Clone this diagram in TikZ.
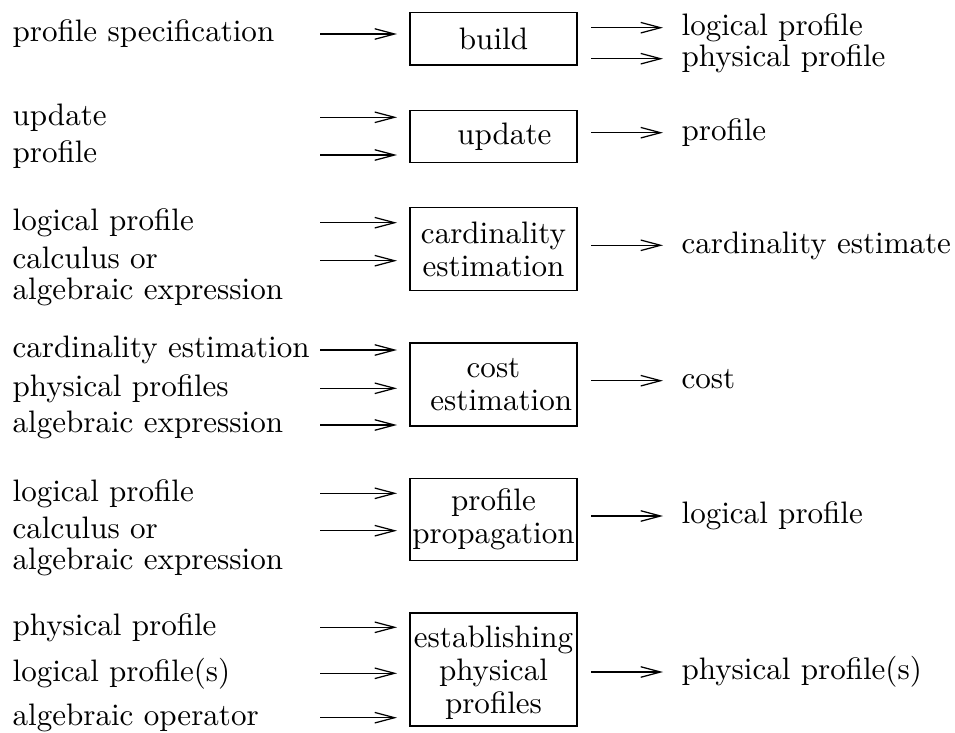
\documentclass[tikz,border=0pt]{standalone}
\usepackage{tikz}
\usetikzlibrary{arrows.meta, positioning}

\begin{document}
\begin{tikzpicture}[x=0.322pt, y=-0.322pt,
		arr/.style={-{Straight Barb[length=6.4pt, width=3.4pt]}},
		blk/.style={draw, inner sep=0pt, minimum width=53.8pt, align=center,
			font=\fontsize{10}{10.6}\selectfont},
		lbl/.style={anchor=west, inner sep=0pt, text height=7pt, text depth=2pt},
		nxt/.style={lbl, below=0.66pt of #1.south west, anchor=north west}]
		\useasboundingbox (0,0) rectangle (955,733);
		% Columns of the arrows
		\coordinate (intail) at (320,0);
		\coordinate (inhead) at (397,0);
		\coordinate (outtail) at (591,0);
		\coordinate (outhead) at (663,0);
		% build
		\node[blk, minimum height=16.8pt] (build) at (493.5,38.9) {build};
		\node[lbl] (spec) at (12,34) {profile specification};
		\node[lbl] (bldlog) at (681,27.7) {logical profile};
		\node[lbl] (bldphy) at (681,58.7) {physical profile};
		\draw[arr] (spec -| intail) -- (spec -| inhead);
		\draw[arr] (bldlog -| outtail) -- (bldlog -| outhead);
		\draw[arr] (bldphy -| outtail) -- (bldphy -| outhead);
		% update
		\node[blk, minimum height=16.8pt] (upd) at (493.5,136.7) {\hspace*{7pt}update};
		\node[lbl] (updin) at (12,117.3) {update};
		\node[lbl] (updprof) at (12,155) {profile};
		\node[lbl] (updout) at (681,132.7) {profile};
		\draw[arr] (updin -| intail) -- (updin -| inhead);
		\draw[arr] (updprof -| intail) -- (updprof -| inhead);
		\draw[arr] (updout -| outtail) -- (updout -| outhead);
		% cardinality estimation
		\node[blk, minimum height=26.7pt] (card) at (493.5,249.2) {cardinality\\estimation};
		\node[lbl] (cardlog) at (12,222.7) {logical profile};
		\node[lbl] (cardcalc) at (12,260.7) {calculus or};
		\node[nxt=cardcalc] {algebraic expression};
		\node[lbl] (cardout) at (681,245.3) {cardinality estimate};
		\draw[arr] (cardlog -| intail) -- (cardlog -| inhead);
		\draw[arr] (cardcalc -| intail) -- (cardcalc -| inhead);
		\draw[arr] (cardout -| outtail) -- (cardout -| outhead);
		% cost estimation
		\node[blk, minimum height=26.7pt] (cost) at (493.5,384.5) {cost\\\hspace*{5pt}estimation};
		\node[lbl] (costcard) at (12,350) {cardinality estimation};
		\node[lbl] (costphy) at (12,388.3) {physical profiles};
		\node[lbl] (costexpr) at (12,425) {algebraic expression};
		\node[lbl] (costout) at (681,380.7) {cost};
		\draw[arr] (costcard -| intail) -- (costcard -| inhead);
		\draw[arr] (costphy -| intail) -- (costphy -| inhead);
		\draw[arr] (costexpr -| intail) -- (costexpr -| inhead);
		\draw[arr] (costout -| outtail) -- (costout -| outhead);
		% profile propagation
		\node[blk, minimum height=26.5pt] (prop) at (493.5,519.5) {profile\\propagation};
		\node[lbl] (proplog) at (12,493.3) {logical profile};
		\node[lbl] (propcalc) at (12,530.7) {calculus or};
		\node[nxt=propcalc] {algebraic expression};
		\node[lbl] (propout) at (681,516) {logical profile};
		\draw[arr] (proplog -| intail) -- (proplog -| inhead);
		\draw[arr] (propcalc -| intail) -- (propcalc -| inhead);
		\draw[arr] (propout -| outtail) -- (propout -| outhead);
		% establishing physical profiles
		\node[blk, minimum height=36.4pt, text depth=0pt] (estab) at (493.5,669.5) {establishing\\physical\\profiles};
		\node[lbl] (estphy) at (12,627.3) {physical profile};
		\node[lbl] (estlog) at (12,673.3) {logical profile(s)};
		\node[lbl] (estop) at (12,717.7) {algebraic operator};
		\node[lbl] (estout) at (681,672) {physical profile(s)};
		\draw[arr] (estphy -| intail) -- (estphy -| inhead);
		\draw[arr] (estlog -| intail) -- (estlog -| inhead);
		\draw[arr] (estop -| intail) -- (estop -| inhead);
		\draw[arr] (estout -| outtail) -- (estout -| outhead);
	\end{tikzpicture}
\end{document}
